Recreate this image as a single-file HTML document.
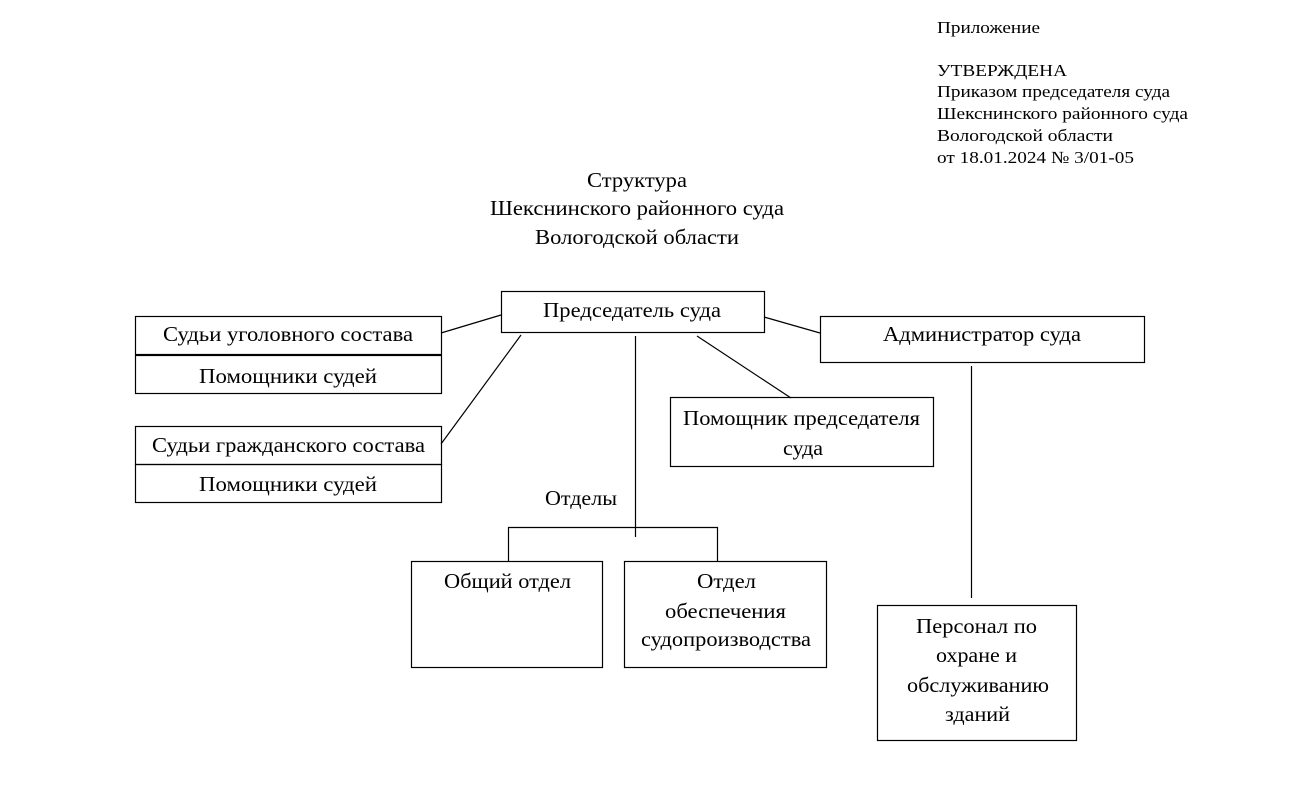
<!DOCTYPE html>
<html><head><meta charset="utf-8"><style>
html,body{margin:0;padding:0;background:#fff;}
svg{display:block;}
text{font-family:"Liberation Serif","Noto Serif CJK SC",serif;fill:#000;}
</style></head><body>
<svg width="1301" height="805" viewBox="0 0 1301 805" xmlns="http://www.w3.org/2000/svg">
<g font-size="17" lengthAdjust="spacingAndGlyphs">
<text x="937" y="33" textLength="103" lengthAdjust="spacingAndGlyphs">Приложение</text>
<text x="937" y="76" textLength="130" lengthAdjust="spacingAndGlyphs">УТВЕРЖДЕНА</text>
<text x="937" y="97" textLength="233" lengthAdjust="spacingAndGlyphs">Приказом председателя суда</text>
<text x="937" y="119" textLength="251" lengthAdjust="spacingAndGlyphs">Шекснинского  районного суда</text>
<text x="937" y="141" textLength="176" lengthAdjust="spacingAndGlyphs">Вологодской области</text>
<text x="937" y="163" textLength="197" lengthAdjust="spacingAndGlyphs">от 18.01.2024 № 3/01-05</text>
</g>
<g font-size="21">
<text x="587" y="187" textLength="100" lengthAdjust="spacingAndGlyphs">Структура</text>
<text x="490" y="215" textLength="294" lengthAdjust="spacingAndGlyphs">Шекснинского районного суда</text>
<text x="535" y="244" textLength="204" lengthAdjust="spacingAndGlyphs">Вологодской области</text>
</g>
<g fill="none" stroke="#000" stroke-width="1.2">
<rect x="501.5" y="291.5" width="263" height="41"/>
<rect x="135.5" y="316.5" width="306" height="38"/>
<rect x="135.5" y="355.5" width="306" height="38"/>
<rect x="135.5" y="426.5" width="306" height="38"/>
<rect x="135.5" y="464.5" width="306" height="38"/>
<rect x="820.5" y="316.5" width="324" height="46"/>
<rect x="670.5" y="397.5" width="263" height="69"/>
<rect x="411.5" y="561.5" width="191" height="106"/>
<rect x="624.5" y="561.5" width="202" height="106"/>
<rect x="877.5" y="605.5" width="199" height="135"/>
<line x1="441" y1="333" x2="501" y2="315"/>
<line x1="441" y1="444" x2="521" y2="335"/>
<line x1="635.5" y1="336" x2="635.5" y2="537"/>
<polyline points="508.5,561 508.5,527.5 717.5,527.5 717.5,561"/>
<line x1="697" y1="336" x2="791" y2="398"/>
<line x1="764" y1="317" x2="820" y2="333"/>
<line x1="971.5" y1="366" x2="971.5" y2="598"/>
</g>
<g font-size="21">
<text x="543" y="317" textLength="178" lengthAdjust="spacingAndGlyphs">Председатель суда</text>
<text x="163" y="341" textLength="250" lengthAdjust="spacingAndGlyphs">Судьи уголовного  состава</text>
<text x="199" y="383" textLength="178" lengthAdjust="spacingAndGlyphs">Помощники судей</text>
<text x="152" y="452" textLength="273" lengthAdjust="spacingAndGlyphs">Судьи гражданского состава</text>
<text x="199" y="491" textLength="178" lengthAdjust="spacingAndGlyphs">Помощники судей</text>
<text x="883" y="341" textLength="198" lengthAdjust="spacingAndGlyphs">Администратор суда</text>
<text x="683" y="425" textLength="237" lengthAdjust="spacingAndGlyphs">Помощник председателя</text>
<text x="783" y="455" textLength="40" lengthAdjust="spacingAndGlyphs">суда</text>
<text x="545" y="505" textLength="72" lengthAdjust="spacingAndGlyphs">Отделы</text>
<text x="444" y="588" textLength="127" lengthAdjust="spacingAndGlyphs">Общий отдел</text>
<text x="697" y="588" textLength="59" lengthAdjust="spacingAndGlyphs">Отдел</text>
<text x="665" y="618" textLength="121" lengthAdjust="spacingAndGlyphs">обеспечения</text>
<text x="641" y="646" textLength="170" lengthAdjust="spacingAndGlyphs">судопроизводства</text>
<text x="916" y="633" textLength="121" lengthAdjust="spacingAndGlyphs">Персонал по</text>
<text x="936" y="662" textLength="81" lengthAdjust="spacingAndGlyphs">охране и</text>
<text x="907" y="692" textLength="142" lengthAdjust="spacingAndGlyphs">обслуживанию</text>
<text x="945" y="721" textLength="65" lengthAdjust="spacingAndGlyphs">зданий</text>
</g>
</svg>
</body></html>
